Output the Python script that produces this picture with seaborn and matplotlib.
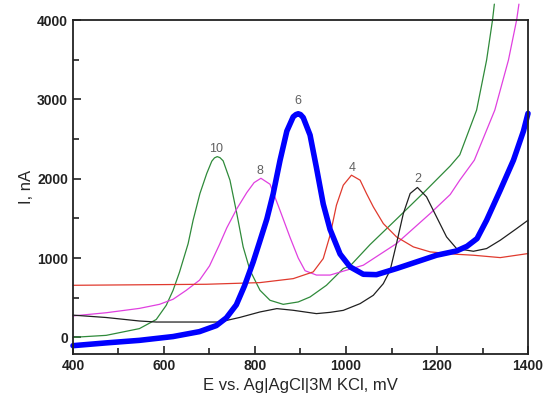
import numpy as np
import pandas as pd
import seaborn as sns
import matplotlib.pyplot as plt
from matplotlib.ticker import MultipleLocator

# Dados -------------------------------------------------------------------

e_10 = [400, 473, 546, 583, 605, 620, 634, 653, 664, 679, 694, 705, 711, 717, 723, 730, 745, 760, 774, 789,
        811, 833, 862, 895, 921, 957, 994, 1009, 1053, 1111, 1170, 1229, 1250, 1287, 1309, 1322, 1326]
i_10 = [0, 25, 110, 225, 404, 593, 820, 1180, 1476, 1813, 2066, 2220, 2262, 2278, 2265, 2225, 1981, 1561, 1140, 845,
        593, 467, 416, 446, 509, 656, 867, 900, 1170, 1490, 1820, 2160, 2300, 2864, 3495, 4000, 4200]

e_8 = [400, 473, 546, 590, 620, 649, 678, 700, 722, 738, 760, 782, 798, 813, 833, 855, 877, 895, 910, 935,
       965, 1038, 1111, 1185, 1229, 1250, 1282, 1327, 1357, 1375, 1380]
i_8 = [270, 310, 365, 416, 480, 593, 720, 900, 1170, 1380, 1620, 1825, 1950, 2005, 1930, 1600, 1260, 1000, 840, 785,
       785, 909, 1182, 1561, 1800, 1981, 2233, 2864, 3495, 4000, 4200]

e_6 = [400, 473, 546, 620, 678, 715, 737, 759, 777, 796, 810, 826, 840, 855, 870, 884, 890, 895, 900, 906, 921, 935,
       950, 965, 987, 1009, 1038, 1067, 1111, 1155, 1199, 1243, 1266, 1288, 1309, 1339, 1368, 1390, 1400]
i_6 = [-105, -70, -38, 10, 72, 148, 245, 410, 650, 950, 1200, 1490, 1810, 2230, 2600, 2780, 2808, 2818, 2808, 2770, 2550, 2140,
       1680, 1360, 1050, 888, 795, 790, 867, 951, 1035, 1089, 1148, 1245, 1476, 1855, 2233, 2600, 2823]

e_4 = [400, 693, 811, 884, 928, 950, 965, 979, 994, 1012, 1031, 1045, 1060, 1082, 1111, 1148, 1185,
       1243, 1280, 1339, 1400]
i_4 = [656, 669, 690, 740, 825, 993, 1287, 1666, 1918, 2044, 1981, 1813, 1645, 1434, 1266, 1140, 1077,
       1047, 1035, 1005, 1056]

e_2 = [400, 473, 546, 583, 722, 766, 811, 848, 884, 935, 965, 994, 1031, 1060, 1082, 1097, 1111, 1126,
       1141, 1157, 1177, 1199, 1221, 1243, 1280, 1309, 1339, 1375, 1400]
i_2 = [280, 250, 206, 193, 193, 250, 320, 362, 341, 299, 315, 340, 425, 530, 677, 845, 1182, 1561,
       1813, 1889, 1771, 1518, 1266, 1119, 1085, 1119, 1224, 1371, 1476]

curvas = {
  '10': (e_10, i_10, '#2f8a3a', 0.9),
  '8': (e_8, i_8, '#e040e0', 0.9),
  '4': (e_4, i_4, '#e03a2e', 0.9),
  '2': (e_2, i_2, '#202020', 0.9),
  '6': (e_6, i_6, '#0000ff', 4.0),
}

# rótulos dos picos: (E, I)
rotulos = {'10': (714, 2372), '8': (810, 2098), '6': (895, 2978), '4': (1013, 2132), '2': (1157, 1990)}

# Gráfico -----------------------------------------------------------------

sns.set_style('ticks')
plt.rcParams['font.family'] = ['Liberation Sans', 'DejaVu Sans']

fig = plt.figure(figsize = (5.43, 4.0), dpi = 100)
ax = fig.add_axes([0.1344, 0.115, 0.838, 0.835])

for nome, (e, i, cor, lw) in curvas.items():
  df = pd.DataFrame({'E': e, 'I': i})
  sns.lineplot(data = df, x = 'E', y = 'I', ax = ax, color = cor, linewidth = lw, sort = False)

for linha in ax.get_lines():
  linha.set_clip_on(False)

for nome, (e, i) in rotulos.items():
  ax.text(e, i, nome, ha = 'center', va = 'center', fontsize = 9, color = '#606060')

ax.set_xlim(400, 1400)
ax.set_ylim(-210, 4000)
ax.xaxis.set_major_locator(MultipleLocator(200))
ax.xaxis.set_minor_locator(MultipleLocator(100))
ax.yaxis.set_major_locator(MultipleLocator(1000))
ax.yaxis.set_minor_locator(MultipleLocator(500))
ax.tick_params(which = 'both', direction = 'in', labelsize = 10, width = 1.2, colors = '#222222')
ax.tick_params(which = 'major', length = 6)
ax.tick_params(which = 'minor', length = 4)
for lab in ax.get_xticklabels() + ax.get_yticklabels():
  lab.set_fontweight('bold')

for s in ax.spines.values():
  s.set_linewidth(1.3)
  s.set_color('#222222')

ax.set_xlabel('E vs. Ag|AgCl|3M KCl, mV', fontsize = 12, labelpad = 4)
ax.set_ylabel('I, nA', fontsize = 12, labelpad = 2)

plt.savefig('out.png', dpi = 100)
